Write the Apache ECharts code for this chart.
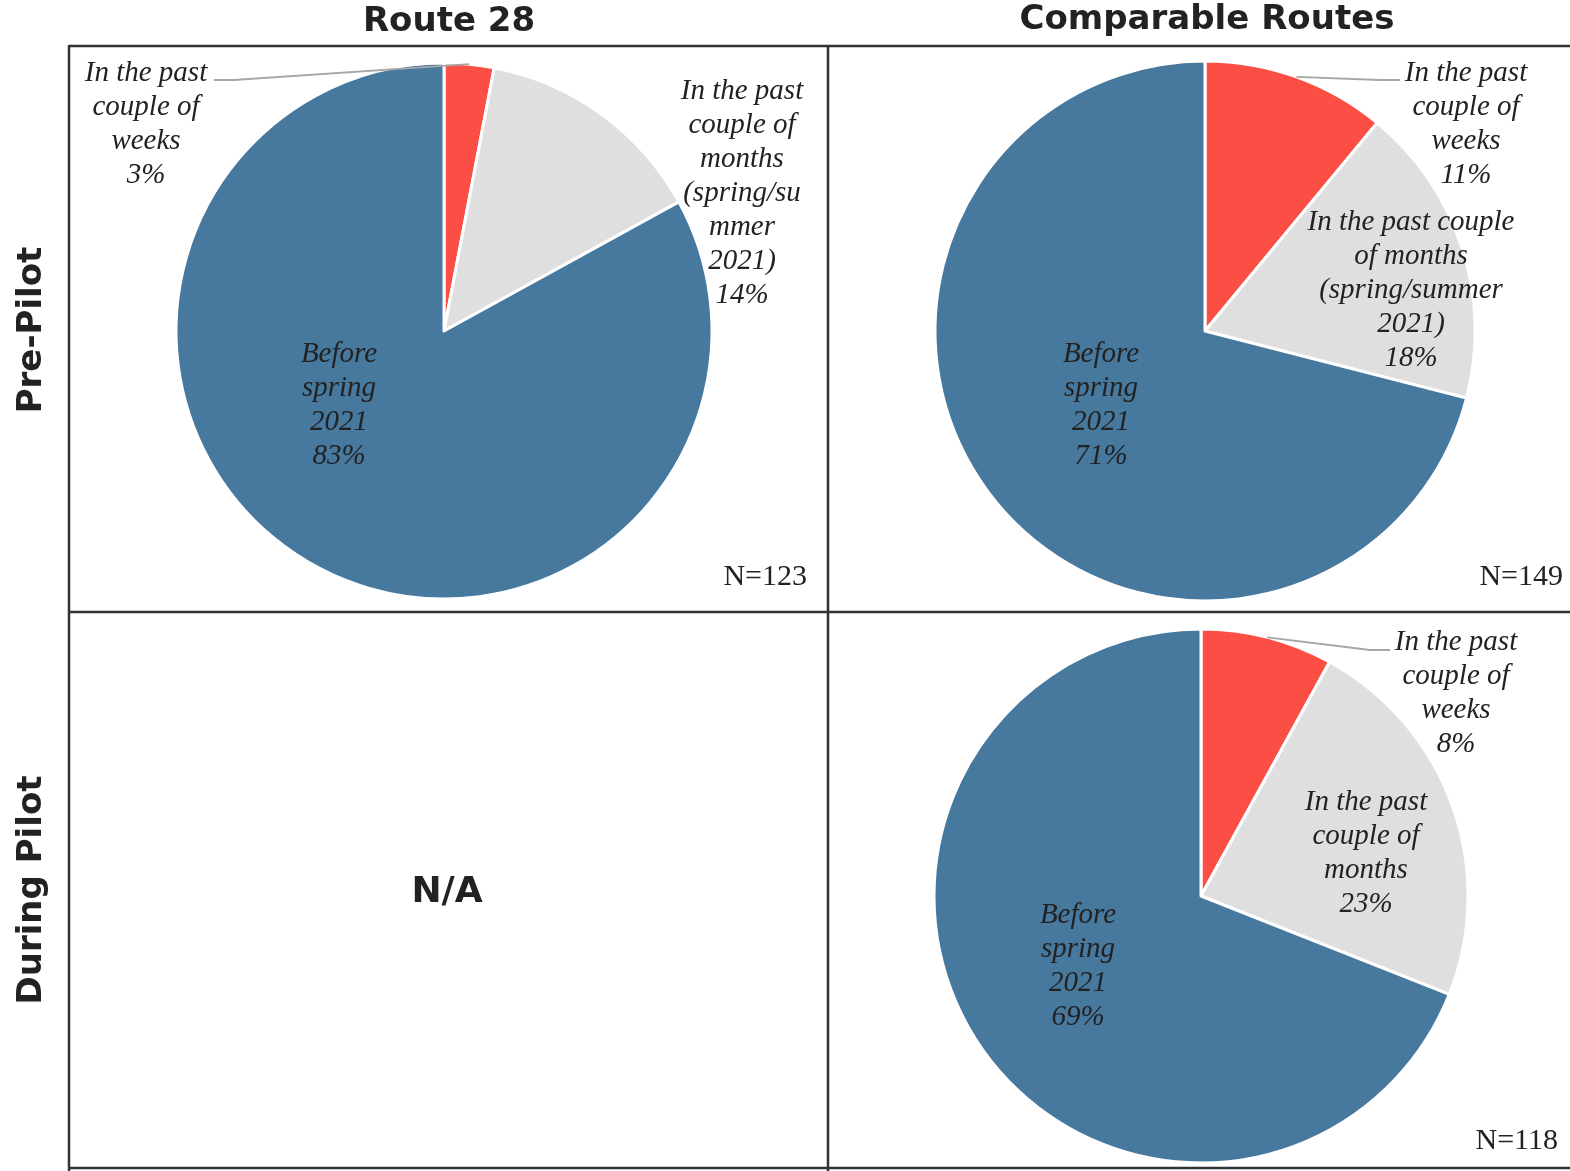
<!DOCTYPE html>
<html><head><meta charset="utf-8">
<script src="https://cdn.jsdelivr.net/npm/echarts@6/dist/echarts.min.js"></script>
<style>html,body{margin:0;padding:0;background:#fff}#c{width:1570px;height:1171px}</style>
</head><body><div id="c"></div>
<script>
// Data
const categories = ['In the past couple of weeks', 'In the past couple of months (spring/summer 2021)', 'Before spring 2021'];
const route28PreValues = [3, 14, 83];
const comparablePreValues = [11, 18, 71];
const comparableDuringValues = [8, 23, 69];
const route28PreLabels = ['In the past\ncouple of\nweeks', 'In the past\ncouple of\nmonths\n(spring/su\nmmer\n2021)', 'Before\nspring\n2021'];
const comparablePreLabels = ['In the past\ncouple of\nweeks', 'In the past couple\nof months\n(spring/summer\n2021)', 'Before\nspring\n2021'];
const comparableDuringLabels = ['In the past\ncouple of\nweeks', 'In the past\ncouple of\nmonths', 'Before\nspring\n2021'];
const columnTitles = ['Route 28', 'Comparable Routes'];
const rowTitles = ['Pre-Pilot', 'During Pilot'];
const sampleSizes = ['N=123', 'N=149', 'N=118'];

const colors = ['#FB4F45', '#DFDFDF', '#47789E'];
const labelFont = {fontFamily: '"Liberation Serif", serif', fontStyle: 'italic', fontSize: 29, lineHeight: 34, color: '#222'};

// Filled slices (no labels)
function fillSeries(values, center, radius) {
  return {
    type: 'pie', center: center, radius: radius, startAngle: 90, clockwise: true,
    animation: false, silent: true, z: 2,
    itemStyle: {borderColor: '#fff', borderWidth: 3},
    label: {show: false}, labelLine: {show: false},
    data: values.map((v, i) => ({name: categories[i], value: v, itemStyle: {color: colors[i]}}))
  };
}

// Transparent overlay carrying labels and leader lines (drawn above the fills)
function labelSeries(values, labels, center, radius, labelPos, outsideGray, lineEnd, lineDir) {
  return {
    type: 'pie', center: center, radius: radius, startAngle: 90, clockwise: true,
    animation: false, silent: true, z: 5,
    itemStyle: {color: 'rgba(0,0,0,0)', borderWidth: 0},
    data: values.map((v, i) => ({
      name: categories[i],
      value: v,
      label: Object.assign({
        show: true,
        position: (i === 0 || (i === 1 && outsideGray)) ? 'outside' : 'inside',
        formatter: labels[i] + '\n' + v + '%',
        align: 'center'
      }, labelFont),
      labelLine: {show: i === 0, length: 10, length2: 10, lineStyle: {color: '#A6A6A6', width: 1.8}}
    })),
    labelLayout: function (p) {
      const pos = labelPos[p.dataIndex];
      const out = {x: pos[0], y: pos[1], align: 'center', verticalAlign: 'middle'};
      if (p.dataIndex === 0 && p.labelLinePoints && p.labelLinePoints.length) {
        const s = p.labelLinePoints[0];
        out.labelLinePoints = [[s[0], s[1]], [lineEnd[0] - lineDir * 20, lineEnd[1]], [lineEnd[0], lineEnd[1]]];
      }
      return out;
    }
  };
}

const chart = echarts.init(document.getElementById('c'));
const lineStyle = {stroke: '#333', lineWidth: 2.5};
const titleFont = 'bold 34px "DejaVu Sans", sans-serif';
const nFont = '30px "Liberation Serif", serif';

chart.setOption({
  backgroundColor: '#fff',
  series: [
    fillSeries(route28PreValues, [444, 331], 268),
    fillSeries(comparablePreValues, [1205, 331], 270),
    fillSeries(comparableDuringValues, [1201, 896], 267),
    labelSeries(route28PreValues, route28PreLabels, [444, 331], 268,
      [[146, 124], [742, 193], [339, 405]], true, [214, 80], -1),
    labelSeries(comparablePreValues, comparablePreLabels, [1205, 331], 270,
      [[1466, 124], [1411, 290], [1101, 405]], false, [1400, 80], 1),
    labelSeries(comparableDuringValues, comparableDuringLabels, [1201, 896], 267,
      [[1456, 693], [1366, 853], [1078, 966]], false, [1390, 650], 1)
  ],
  graphic: [
    {type: 'line', shape: {x1: 69, y1: 46, x2: 1570, y2: 46}, style: lineStyle, z: 100},
    {type: 'line', shape: {x1: 69, y1: 612, x2: 1570, y2: 612}, style: lineStyle, z: 100},
    {type: 'line', shape: {x1: 69, y1: 1168, x2: 1570, y2: 1168}, style: lineStyle, z: 100},
    {type: 'line', shape: {x1: 69, y1: 45, x2: 69, y2: 1171}, style: lineStyle, z: 100},
    {type: 'line', shape: {x1: 828, y1: 45, x2: 828, y2: 1171}, style: lineStyle, z: 100},
    {type: 'text', x: 449, y: 22, style: {text: columnTitles[0], font: titleFont, fill: '#222', textAlign: 'center', textVerticalAlign: 'middle'}},
    {type: 'text', x: 1207, y: 20, style: {text: columnTitles[1], font: titleFont, fill: '#222', textAlign: 'center', textVerticalAlign: 'middle'}},
    {type: 'text', x: 32, y: 330, rotation: Math.PI / 2, style: {text: rowTitles[0], font: titleFont, fill: '#222', textAlign: 'center', textVerticalAlign: 'middle'}},
    {type: 'text', x: 32, y: 890, rotation: Math.PI / 2, style: {text: rowTitles[1], font: titleFont, fill: '#222', textAlign: 'center', textVerticalAlign: 'middle'}},
    {type: 'text', x: 447, y: 893, style: {text: 'N/A', font: 'bold 36px "DejaVu Sans", sans-serif', fill: '#222', textAlign: 'center', textVerticalAlign: 'middle'}},
    {type: 'text', x: 807, y: 577, style: {text: sampleSizes[0], font: nFont, fill: '#222', textAlign: 'right', textVerticalAlign: 'middle'}},
    {type: 'text', x: 1563, y: 577, style: {text: sampleSizes[1], font: nFont, fill: '#222', textAlign: 'right', textVerticalAlign: 'middle'}},
    {type: 'text', x: 1558, y: 1141, style: {text: sampleSizes[2], font: nFont, fill: '#222', textAlign: 'right', textVerticalAlign: 'middle'}}
  ]
});
</script>
</body></html>
